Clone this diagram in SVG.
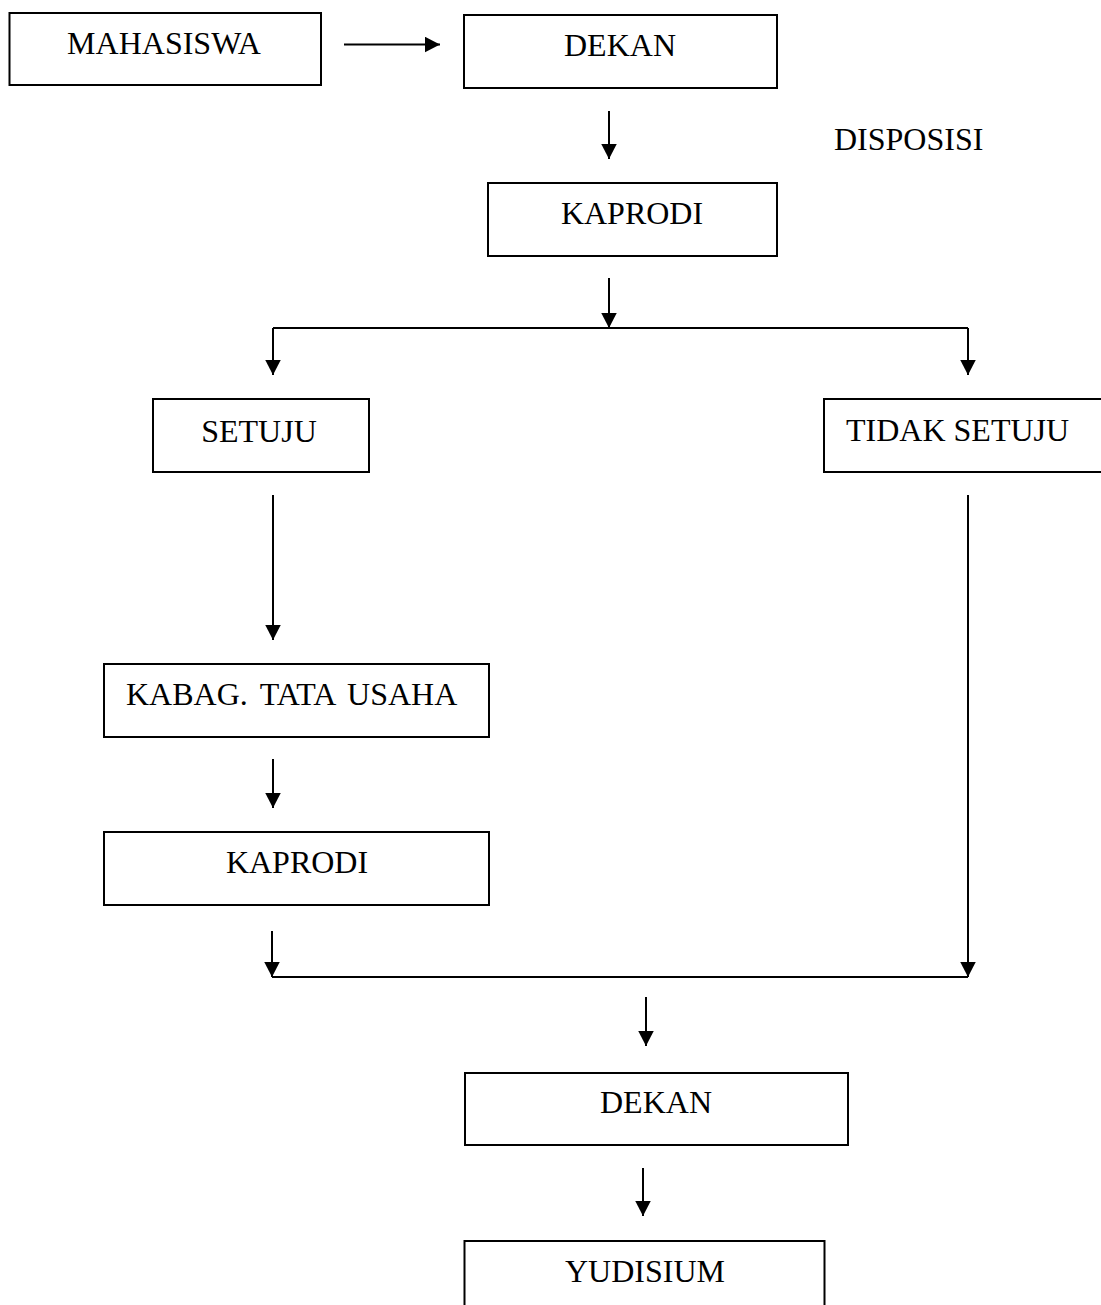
<svg xmlns="http://www.w3.org/2000/svg" width="1101" height="1305" viewBox="0 0 1101 1305">
<style>
.box{fill:#fff;stroke:#000;stroke-width:2}
.lbl{font-family:"Liberation Serif","Times New Roman",serif;font-size:32px;fill:#000}
.c{text-anchor:middle}
.ln{fill:none;stroke:#000;stroke-width:2}
</style>
<defs>
<marker id="ah" markerUnits="userSpaceOnUse" markerWidth="16" markerHeight="16" refX="15.5" refY="8" orient="auto" viewBox="0 0 16 16">
<path d="M0,0 L15.5,8 L0,16 Z" fill="#000"/>
</marker>
</defs>
<rect width="1101" height="1305" fill="#fff"/>
<g id="connectors">
<path class="ln" d="M344,44.5 H440" marker-end="url(#ah)"/>
<path class="ln" d="M609,111 V159" marker-end="url(#ah)"/>
<path class="ln" d="M609,278 V328" marker-end="url(#ah)"/>
<path class="ln" d="M273,328 H968"/>
<path class="ln" d="M273,328 V375" marker-end="url(#ah)"/>
<path class="ln" d="M968,328 V375" marker-end="url(#ah)"/>
<path class="ln" d="M273,495 V640" marker-end="url(#ah)"/>
<path class="ln" d="M273,759 V808" marker-end="url(#ah)"/>
<path class="ln" d="M272,931 V977" marker-end="url(#ah)"/>
<path class="ln" d="M968,495 V977" marker-end="url(#ah)"/>
<path class="ln" d="M272,977 H968"/>
<path class="ln" d="M646,997 V1046" marker-end="url(#ah)"/>
<path class="ln" d="M643,1168 V1216" marker-end="url(#ah)"/>
</g>
<g id="mahasiswa"><rect class="box" x="9.5" y="13" width="311.5" height="72"/><text class="lbl c" x="164" y="54">MAHASISWA</text></g>
<g id="dekan1"><rect class="box" x="464" y="15" width="313" height="73"/><text class="lbl c" x="620" y="56">DEKAN</text></g>
<g id="disposisi"><text class="lbl" x="834" y="150">DISPOSISI</text></g>
<g id="kaprodi1"><rect class="box" x="488" y="183" width="289" height="73"/><text class="lbl c" x="632" y="224">KAPRODI</text></g>
<g id="setuju"><rect class="box" x="153" y="399" width="216" height="73"/><text class="lbl c" x="259" y="442">SETUJU</text></g>
<g id="tidak-setuju"><rect class="box" x="824" y="399" width="300" height="73"/><text class="lbl" x="846" y="441">TIDAK SETUJU</text></g>
<g id="kabag"><rect class="box" x="104" y="664" width="385" height="73"/><text class="lbl" x="126" y="705" word-spacing="4.5">KABAG. TATA USAHA</text></g>
<g id="kaprodi2"><rect class="box" x="104" y="832" width="385" height="73"/><text class="lbl c" x="297" y="873">KAPRODI</text></g>
<g id="dekan2"><rect class="box" x="465" y="1073" width="383" height="72"/><text class="lbl c" x="656" y="1113">DEKAN</text></g>
<g id="yudisium"><rect class="box" x="464.5" y="1241" width="360" height="100"/><text class="lbl c" x="645" y="1282">YUDISIUM</text></g>
</svg>
